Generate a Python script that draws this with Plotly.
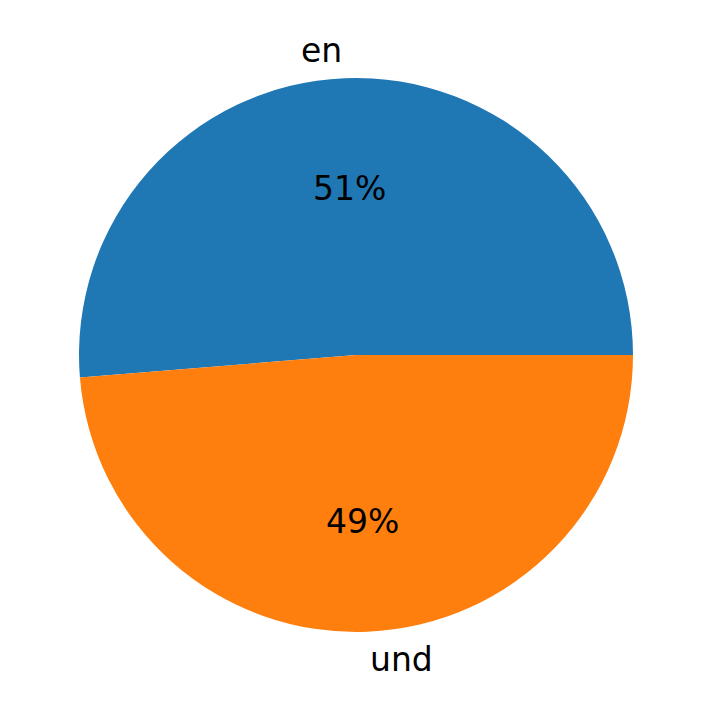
import numpy as np
import plotly.graph_objects as go

# language split
labels = ["en", "und"]
shares = [51.3, 48.7]
colors = ["#1f77b4", "#ff7f0e"]

W, H = 712, 713
cx, cy, r = 356, 355, 277  # pie centre / radius in pixels
font = dict(family="DejaVu Sans", size=33, color="black")

total = sum(shares)

fig = go.Figure()
fig.add_trace(go.Pie(
    labels=labels, values=shares, sort=False,
    # first slice starts at 3 o'clock and runs counterclockwise (matplotlib default)
    direction="counterclockwise", rotation=90 - 360 * shares[0] / total,
    marker=dict(colors=colors, line=dict(width=0)),
    textinfo="none", hoverinfo="label+percent", showlegend=False,
    domain=dict(x=[(cx - r) / W, (cx + r) / W],
                y=[(H - cy - r) / H, (H - cy + r) / H]),
))

# matplotlib-style labels: names at 1.1r, percentages at 0.6r
start = 0.0
for lab, v in zip(labels, shares):
    mid = np.deg2rad(start + 180 * v / total)
    start += 360 * v / total
    c, s = np.cos(mid), np.sin(mid)
    fig.add_annotation(
        x=(cx + 1.1 * r * c) / W, y=(H - cy + 1.1 * r * s) / H,
        xref="paper", yref="paper", text=lab, showarrow=False, font=font,
        xanchor="left" if c > 0 else "right", yanchor="middle",
    )
    fig.add_annotation(
        x=(cx + 0.6 * r * c) / W, y=(H - cy + 0.6 * r * s) / H,
        xref="paper", yref="paper", text=f"{v / total * 100:.0f}%",
        showarrow=False, font=font, xanchor="center", yanchor="middle",
    )

fig.update_layout(width=W, height=H, margin=dict(l=0, r=0, t=0, b=0),
                  paper_bgcolor="white", plot_bgcolor="white")
fig.write_html("out.html", config={"displayModeBar": False},
               post_script="document.body.style.margin='0';")
